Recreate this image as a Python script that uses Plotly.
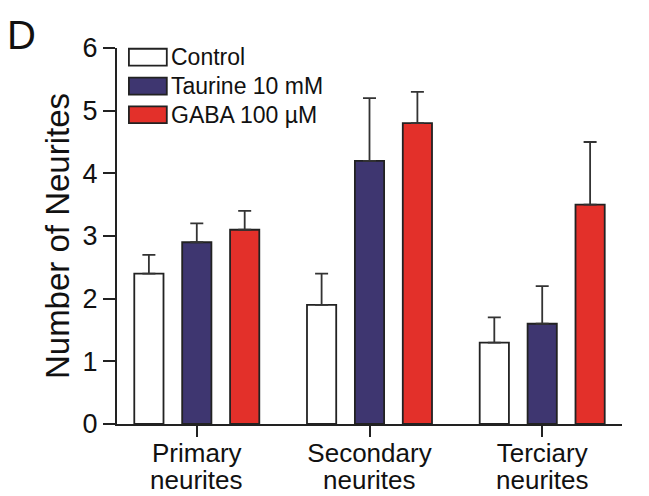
import plotly.graph_objects as go

categories = ["Primary<br>neurites", "Secondary<br>neurites", "Terciary<br>neurites"]
series_names = ["Control", "Taurine 10 mM", "GABA 100 µM"]
control = [2.4, 1.9, 1.3]
taurine = [2.9, 4.2, 1.6]
gaba = [3.1, 4.8, 3.5]
control_err = [0.3, 0.5, 0.4]
taurine_err = [0.3, 1.0, 0.6]
gaba_err = [0.3, 0.5, 1.0]
y_ticks = [0, 1, 2, 3, 4, 5, 6]

colors = ["#ffffff", "#3e3670", "#e3302a"]
values = [control, taurine, gaba]
errors = [control_err, taurine_err, gaba_err]
FONT = "Liberation Sans, Arial, sans-serif"
cat_pos = list(range(len(categories)))
line1 = [c.split("<br>")[0] for c in categories]
line2 = [c.split("<br>")[1] for c in categories]

fig = go.Figure()
for name, vals, errs, col in zip(series_names, values, errors, colors):
    fig.add_trace(go.Bar(
        x=cat_pos, y=vals, name=name,
        marker=dict(color=col, line=dict(color="#222222", width=1.8)),
        error_y=dict(type="data", array=errs, arrayminus=[0] * len(errs), symmetric=False,
                     color="#333333", thickness=1.8, width=6.5),
        showlegend=False,
    ))

# Manual legend with wide boxes
leg_x0, leg_x1, leg_tx = 0.0236, 0.0986, 0.102
leg_rows = [(0.998, 0.953), (0.921, 0.876), (0.845, 0.800)]
for name, col, (y1, y0) in zip(series_names, colors, leg_rows):
    fig.add_shape(type="rect", xref="paper", yref="paper", x0=leg_x0, x1=leg_x1, y0=y0, y1=y1,
                  fillcolor=col, line=dict(color="#222222", width=1.8))
    fig.add_annotation(xref="paper", yref="paper", x=leg_tx, y=(y0 + y1) / 2, text=name,
                       showarrow=False, xanchor="left", yanchor="middle",
                       font=dict(family=FONT, size=23, color="#111111"))

# second line of category labels (tight line spacing)
for xp, t in zip(cat_pos, line2):
    fig.add_annotation(xref="x", yref="paper", x=xp, y=0, yshift=-42, text=t, showarrow=False,
                       xanchor="center", yanchor="top", height=26, borderpad=0,
                       font=dict(family=FONT, size=26, color="#111111"))

fig.add_annotation(xref="paper", yref="paper", x=-0.222, y=1.098, text="D", showarrow=False,
                   xanchor="left", yanchor="top", font=dict(family=FONT, size=40, color="#111111"))

fig.update_layout(
    width=641, height=488,
    margin=dict(l=109, r=27, t=40, b=72),
    paper_bgcolor="white", plot_bgcolor="white",
    barmode="group", bargap=0.168, bargroupgap=0.39,
    font=dict(family=FONT, color="#111111"),
)
fig.update_xaxes(
    range=[-0.462, 2.462], tickmode="array", tickvals=cat_pos, ticktext=line1,
    showline=True, linecolor="#222222", linewidth=2, ticks="outside", ticklen=11, tickwidth=2,
    tickcolor="#222222", tickfont=dict(family=FONT, size=26, color="#111111"), showgrid=False,
    zeroline=False, automargin=False, ticklabelstandoff=-6,
)
fig.update_yaxes(
    range=[0, 6], tickvals=y_ticks, showline=True, linecolor="#222222", linewidth=2,
    ticks="outside", ticklen=12, tickwidth=2, tickcolor="#222222",
    tickfont=dict(family=FONT, size=27, color="#111111"), showgrid=False, zeroline=False,
    title=dict(text="Number of Neurites", font=dict(family=FONT, size=33, color="#111111"), standoff=3),
    automargin=False,
)

fig.write_html("out.html")
